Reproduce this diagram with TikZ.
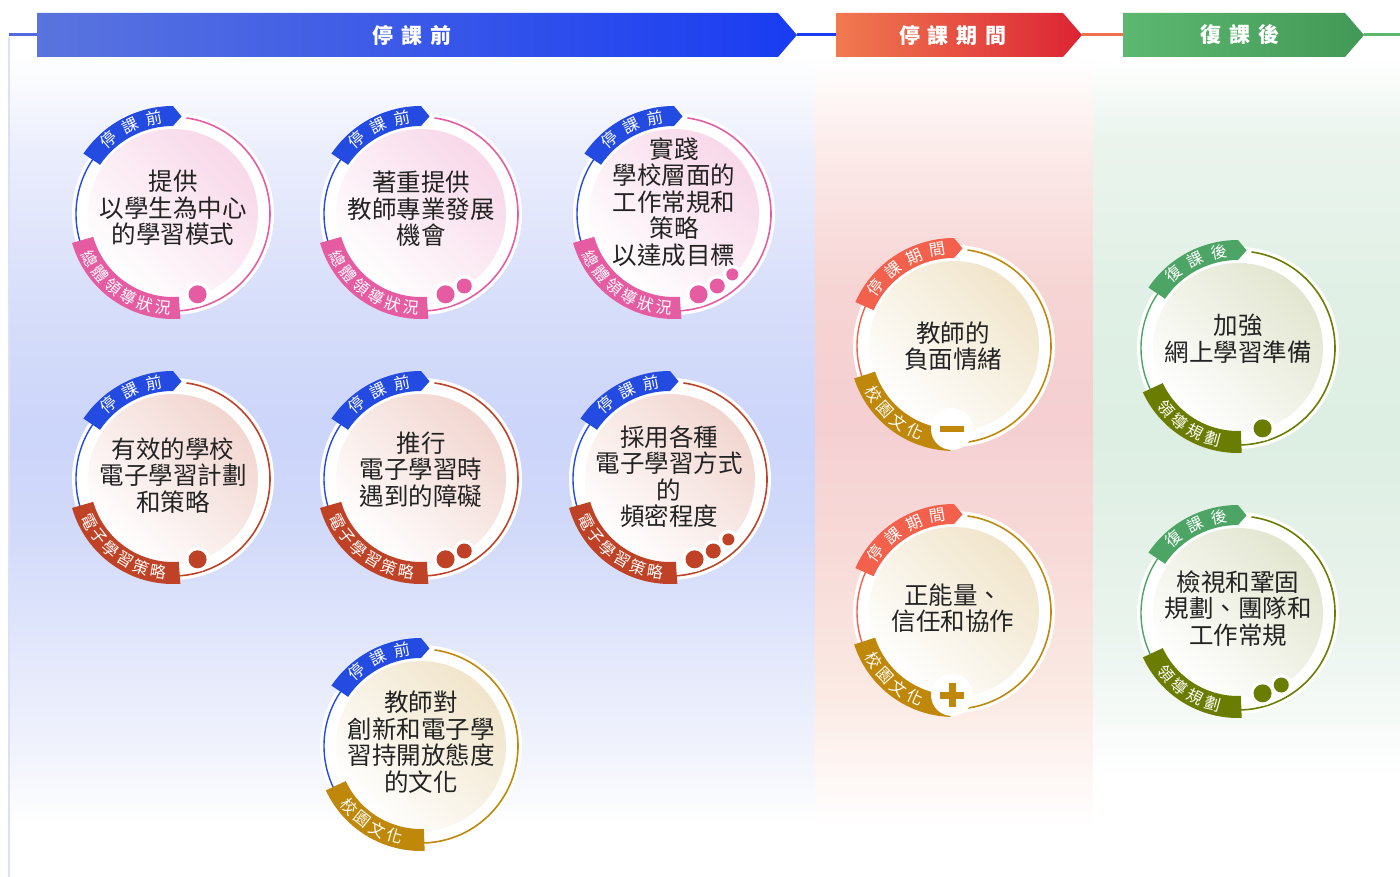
\documentclass[tikz,border=0pt]{standalone}
\usepackage{fontspec}
\setmainfont{Noto Sans CJK TC}
\usetikzlibrary{calc}

\definecolor{phA}{RGB}{35,75,225}
\definecolor{phB}{RGB}{243,96,76}
\definecolor{phC}{RGB}{76,165,100}
\definecolor{ctL}{RGB}{230,92,162}
\definecolor{ctE}{RGB}{192,66,38}
\definecolor{ctK}{RGB}{192,136,10}
\definecolor{ctP}{RGB}{106,125,0}
\definecolor{inL}{RGB}{248,216,233}
\definecolor{inE}{RGB}{242,214,208}
\definecolor{inK}{RGB}{241,229,203}
\definecolor{inP}{RGB}{226,230,208}
\definecolor{txt}{RGB}{35,35,35}
\definecolor{barA1}{RGB}{90,116,222}
\definecolor{barA2}{RGB}{25,60,242}
\definecolor{barB1}{RGB}{240,122,80}
\definecolor{barB2}{RGB}{220,36,52}
\definecolor{barC1}{RGB}{92,184,112}
\definecolor{barC2}{RGB}{66,152,86}
\definecolor{lnA}{RGB}{82,106,222}
\definecolor{lnA2}{RGB}{25,60,242}
\definecolor{lnB}{RGB}{240,112,78}
\definecolor{lnC}{RGB}{92,184,112}
\definecolor{vline}{RGB}{220,225,245}

\definecolor{bA1}{RGB}{240,242,252}
\definecolor{bA2}{RGB}{226,231,251}
\definecolor{bA3}{RGB}{210,218,250}
\definecolor{bA4}{RGB}{204,213,250}
\definecolor{bA5}{RGB}{215,222,250}
\definecolor{bA6}{RGB}{234,237,252}
\definecolor{bB1}{RGB}{251,234,228}
\definecolor{bB2}{RGB}{247,218,216}
\definecolor{bB3}{RGB}{245,207,210}
\definecolor{bB4}{RGB}{246,212,212}
\definecolor{bB5}{RGB}{251,234,232}
\definecolor{bC1}{RGB}{234,244,237}
\definecolor{bC2}{RGB}{221,238,226}
\definecolor{bC3}{RGB}{224,240,229}
\definecolor{bC4}{RGB}{234,244,237}

\pgfdeclareverticalshading{bgA}{100bp}{color(0bp)=(white); color(25bp)=(white); color(28bp)=(white); color(33bp)=(bA1); color(39bp)=(bA2); color(46bp)=(bA3); color(52bp)=(bA4); color(60bp)=(bA5); color(69bp)=(bA6); color(75bp)=(white); color(100bp)=(white)}
\pgfdeclareverticalshading{bgB}{100bp}{color(0bp)=(white); color(25bp)=(white); color(28bp)=(white); color(36bp)=(bB1); color(45bp)=(bB2); color(53bp)=(bB3); color(61bp)=(bB4); color(69bp)=(bB5); color(75bp)=(white); color(100bp)=(white)}
\pgfdeclareverticalshading{bgC}{100bp}{color(0bp)=(white); color(25bp)=(white); color(31bp)=(white); color(40bp)=(bC1); color(52bp)=(bC2); color(60bp)=(bC3); color(70bp)=(bC4); color(75bp)=(white); color(100bp)=(white)}

\tikzset{
  tagtxt/.style={font=\fontsize{16}{16}\selectfont, text=white, inner sep=0pt},
  maintext/.style={font=\fontsize{24.5}{26.5}\selectfont, align=center, text=txt, inner sep=0pt},
  hdr/.style={font=\bfseries\fontsize{21}{21}\selectfont, text=white, inner sep=0pt},
}

% base of a bubble: #1 phase colour, #2 category colour, #3 inner colour
\newcommand\BubbleBase[3]{%
  \fill[white] (0,0) circle[radius=101];
  \shade[top color=#3, bottom color=white, shading angle=-45] (0,0) circle[radius=85];
  \draw[#1, line width=1.4] (140:97) arc[start angle=140, end angle=205, radius=97];
  \draw[#2, line width=1.6] (82:97) arc[start angle=82, end angle=-90, radius=97];
}
% top tag: #1 colour, #2 left angle, #3 first char angle, #4 step, #5 chars, #6 name
\newcommand\TopTag[6]{%
  \fill[#1] (#2:88) arc[start angle=#2, end angle=90, radius=88] -- (85:98) -- (90:108)
     arc[start angle=90, end angle=#2, radius=108] -- cycle;
  \foreach \c [count=\i from 0] in {#5} {%
    \pgfmathsetmacro\a{#3-#4*\i}
    \node[tagtxt, rotate=\a-90] (#6-\i) at (\a:98) {\c};}
}
% bottom tag: #1 colour, #2 start, #3 end, #4 first char angle, #5 step, #6 chars, #7 name
\newcommand\BotTag[7]{%
  \fill[#1] (#2:83) arc[start angle=#2, end angle=#3, radius=83] -- (#3:105)
     arc[start angle=#3, end angle=#2, radius=105] -- cycle;
  \foreach \c [count=\i from 0] in {#6} {%
    \pgfmathsetmacro\a{#4+#5*\i}
    \node[tagtxt, rotate=\a+90] (#7-\i) at (\a:94) {\c};}
}
% dots: #1 colour, #2 count
\newcommand\Dots[2]{%
  \foreach \ang/\rr [count=\k] in {287/9,301/7.5,314/6} {%
    \ifnum\k>#2\relax\else\fill[white] (\ang:84) circle[radius=\rr+3.5];\fi}
  \foreach \ang/\rr [count=\k] in {287/9,301/7.5,314/6} {%
    \ifnum\k>#2\relax\else\fill[#1] (\ang:84) circle[radius=\rr];\fi}
}
\newcommand\IconMinus[1]{%
  \fill[white] (-2,-83) circle[radius=21];
  \fill[#1] (-14,-86) rectangle (10,-80);
}
\newcommand\IconPlus[1]{%
  \fill[white] (-2,-83) circle[radius=21];
  \fill[#1] (-14,-86.5) rectangle (10,-79.5);
  \fill[#1] (-5.5,-95) rectangle (1.5,-71);
}

\begin{document}
\begin{tikzpicture}[x=1pt,y=1pt]
\useasboundingbox (0,0) rectangle (1400,-877);
\fill[white] (0,0) rectangle (1400,-877);

% column backgrounds
\shade[shading=bgA] (9.5,-57) rectangle (815,-877);
\shade[shading=bgB] (815,-57) rectangle (1093,-877);
\shade[shading=bgC] (1093,-57) rectangle (1400,-877);

% left rail
\coordinate (rail1) at (9,-37);
\coordinate (rail2) at (9,-877);
\draw[vline, line width=1.2] (rail1) -- (rail2);

% header bars
\shade[left color=barA1, right color=barA2] (37,-13) -- (778,-13) -- (797,-35) -- (778,-57) -- (37,-57) -- cycle;
\shade[left color=barB1, right color=barB2] (836,-13) -- (1063,-13) -- (1082,-35) -- (1063,-57) -- (836,-57) -- cycle;
\shade[left color=barC1, right color=barC2] (1123,-13) -- (1345,-13) -- (1364,-35) -- (1345,-57) -- (1123,-57) -- cycle;
\node[hdr] (h1) at (412,-35) {停\hspace{8pt}課\hspace{8pt}前};
\node[hdr] (h2) at (953,-35) {停\hspace{8pt}課\hspace{8pt}期\hspace{8pt}間};
\node[hdr] (h3) at (1240,-35) {復\hspace{8pt}課\hspace{8pt}後};

\coordinate (l0) at (9,-35);
\coordinate (a1) at (37,-35);
\coordinate (a2) at (797,-35);
\coordinate (b1) at (836,-35);
\coordinate (b2) at (1082,-35);
\coordinate (c1) at (1123,-35);
\coordinate (c2) at (1364,-35);
\coordinate (r0) at (1400,-35);
\draw[lnA, line width=3] (l0) -- (a1);
\draw[lnA2, line width=3] (a2) -- (b1);
\draw[lnB, line width=3] (b2) -- (c1);
\draw[lnC, line width=3] (c2) -- (r0);

% ---------- column 1 ----------
\begin{scope}[shift={(173,-214)}]
  \BubbleBase{phA}{ctL}{inL}
  \TopTag{phA}{146}{131}{15}{停,課,前}{q1p}
  \BotTag{ctL}{196}{274}{208}{11.2}{總,體,領,導,狀,況}{q1c}
  \Dots{ctL}{1}
\end{scope}
\begin{scope}[shift={(421,-214)}]
  \BubbleBase{phA}{ctL}{inL}
  \TopTag{phA}{146}{131}{15}{停,課,前}{q2p}
  \BotTag{ctL}{196}{274}{208}{11.2}{總,體,領,導,狀,況}{q2c}
  \Dots{ctL}{2}
\end{scope}
\begin{scope}[shift={(674,-214)}]
  \BubbleBase{phA}{ctL}{inL}
  \TopTag{phA}{146}{131}{15}{停,課,前}{q3p}
  \BotTag{ctL}{196}{274}{208}{11.2}{總,體,領,導,狀,況}{q3c}
  \Dots{ctL}{3}
\end{scope}
\begin{scope}[shift={(173,-479)}]
  \BubbleBase{phA}{ctE}{inE}
  \TopTag{phA}{146}{131}{15}{停,課,前}{q4p}
  \BotTag{ctE}{196}{274}{207}{10.8}{電,子,學,習,策,略}{q4c}
  \Dots{ctE}{1}
\end{scope}
\begin{scope}[shift={(421,-479)}]
  \BubbleBase{phA}{ctE}{inE}
  \TopTag{phA}{146}{131}{15}{停,課,前}{q5p}
  \BotTag{ctE}{196}{274}{207}{10.8}{電,子,學,習,策,略}{q5c}
  \Dots{ctE}{2}
\end{scope}
\begin{scope}[shift={(670,-479)}]
  \BubbleBase{phA}{ctE}{inE}
  \TopTag{phA}{146}{131}{15}{停,課,前}{q6p}
  \BotTag{ctE}{196}{274}{207}{10.8}{電,子,學,習,策,略}{q6c}
  \Dots{ctE}{3}
\end{scope}
\begin{scope}[shift={(421,-746)}]
  \BubbleBase{phA}{ctK}{inK}
  \TopTag{phA}{146}{131}{15}{停,課,前}{q7p}
  \BotTag{ctK}{205}{272}{220}{11.3}{校,園,文,化}{q7c}
\end{scope}

% ---------- column 2 ----------
\begin{scope}[shift={(954,-346)}]
  \BubbleBase{phB}{ctK}{inK}
  \TopTag{phB}{156}{143}{14.5}{停,課,期,間}{q8p}
  \BotTag{ctK}{198}{268}{211}{11.5}{校,園,文,化}{q8c}
  \IconMinus{ctK}
\end{scope}
\begin{scope}[shift={(954,-612)}]
  \BubbleBase{phB}{ctK}{inK}
  \TopTag{phB}{156}{143}{14.5}{停,課,期,間}{q9p}
  \BotTag{ctK}{198}{268}{211}{11.5}{校,園,文,化}{q9c}
  \IconPlus{ctK}
\end{scope}

% ---------- column 3 ----------
\begin{scope}[shift={(1238,-348)}]
  \BubbleBase{phC}{ctP}{inP}
  \TopTag{phC}{146}{131}{15}{復,課,後}{q10p}
  \BotTag{ctP}{205}{272}{220}{11.5}{領,導,規,劃}{q10c}
  \Dots{ctP}{1}
\end{scope}
\begin{scope}[shift={(1238,-613)}]
  \BubbleBase{phC}{ctP}{inP}
  \TopTag{phC}{146}{131}{15}{復,課,後}{q11p}
  \BotTag{ctP}{205}{272}{220}{11.5}{領,導,規,劃}{q11c}
  \Dots{ctP}{2}
\end{scope}

% ---------- main texts ----------
\node[maintext] (t1) at (173,-208) {提供\\以學生為中心\\的學習模式};
\node[maintext] (t2) at (421,-209) {著重提供\\教師專業發展\\機會};
\node[maintext] (t3) at (674,-202) {實踐\\學校層面的\\工作常規和\\策略\\以達成目標};
\node[maintext] (t4) at (173,-475.5) {有效的學校\\電子學習計劃\\和策略};
\node[maintext] (t5) at (421,-469.5) {推行\\電子學習時\\遇到的障礙};
\node[maintext] (t6) at (669,-476.5) {採用各種\\電子學習方式\\的\\頻密程度};
\node[maintext] (t7) at (421,-742) {教師對\\創新和電子學\\習持開放態度\\的文化};
\node[maintext] (t8) at (953,-346.5) {教師的\\負面情緒};
\node[maintext] (t9) at (953,-608) {正能量、\\信任和協作};
\node[maintext] (t10) at (1238,-339) {加強\\網上學習準備};
\node[maintext] (t11) at (1238,-608.5) {檢視和鞏固\\規劃、團隊和\\工作常規};
\end{tikzpicture}
\end{document}
